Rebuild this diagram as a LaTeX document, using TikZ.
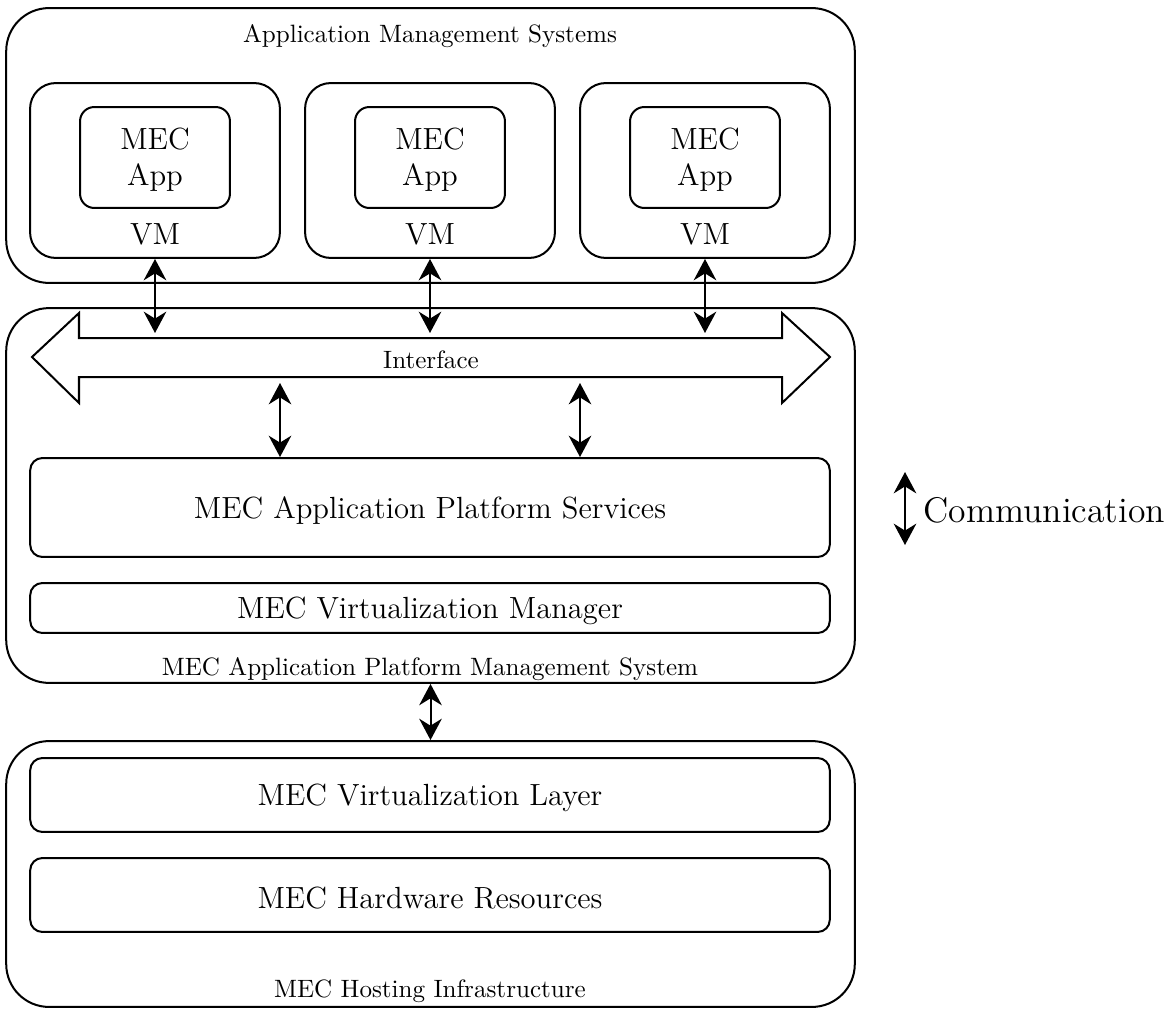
\documentclass[tikz,border=0pt]{standalone}
\usetikzlibrary{arrows.meta}
\begin{document}
\begin{tikzpicture}[x=0.014cm, y=-0.014cm,
    outerbox/.style={draw, thick, rounded corners=0.6cm, minimum width=11.886cm, inner sep=0pt},
    vmbox/.style={draw, thick, rounded corners=0.36cm, minimum width=3.5cm, minimum height=2.45cm, inner sep=0pt},
    appbox/.style={draw, thick, rounded corners=0.2cm, minimum width=2.1cm, minimum height=1.414cm, inner sep=0pt, align=center, font=\fontsize{12.2}{14.5}\selectfont},
    layerbox/.style={draw, thick, rounded corners=0.17cm, minimum width=11.2cm, inner sep=0pt, font=\fontsize{12.2}{14.5}\selectfont},
    bigtext/.style={font=\fontsize{12.2}{14.5}\selectfont},
    comm/.style={thick, {Stealth[length=8.5pt,width=9pt]}-{Stealth[length=8.5pt,width=9pt]}}]
  \useasboundingbox (0,0) rectangle (1168,1012);
  % application management systems
  \node[outerbox, minimum height=3.85cm] (ams) at (430.5,145.5) {};
  \node (amslabel) at (430,36) {Application Management Systems};
  \node[vmbox] (vm1) at (155,170.5) {};
  \node[vmbox] (vm2) at (430,170.5) {};
  \node[vmbox] (vm3) at (705,170.5) {};
  \node[appbox] (app1) at (155,157.5) {\strut MEC\\App};
  \node[appbox] (app2) at (430,157.5) {\strut MEC\\App};
  \node[appbox] (app3) at (705,157.5) {\strut MEC\\App};
  \node[bigtext] (vmlabel1) at (155,234) {VM};
  \node[bigtext] (vmlabel2) at (430,234) {VM};
  \node[bigtext] (vmlabel3) at (705,234) {VM};
  % platform management system
  \node[outerbox, minimum height=5.25cm] (mepm) at (430.5,495.5) {};
  \draw[thick] (32,357) -- (79,313) -- (79,338) -- (782,338) -- (782,313) -- (830,357)
    -- (782,403) -- (782,377) -- (79,377) -- (79,403) -- cycle;
  \node (iflabel) at (431,360) {Interface};
  \coordinate (if1) at (155,333);
  \coordinate (if2) at (430,333);
  \coordinate (if3) at (705,333);
  \coordinate (ifs1) at (280,383);
  \coordinate (ifs2) at (580,383);
  \node[layerbox, minimum height=1.386cm, text height=2.5ex] (services) at (430,507.5) {MEC Application Platform Services};
  \node[layerbox, minimum height=0.7cm, text height=2.5ex] (vmanager) at (430,608) {MEC Virtualization Manager};
  \node (mepmlabel) at (430,669) {MEC Application Platform Management System};
  % hosting infrastructure
  \node[outerbox, minimum height=3.724cm] (host) at (430.5,874) {};
  \node[layerbox, minimum height=1.036cm, text height=2.5ex] (vlayer) at (430,795) {MEC Virtualization Layer};
  \node[layerbox, minimum height=1.036cm, text height=2.5ex] (hardware) at (430,895) {MEC Hardware Resources};
  \node (hostlabel) at (430,991) {MEC Hosting Infrastructure};
  % legend
  \coordinate (legtop) at (905,472);
  \coordinate (legbot) at (905,545);
  \node[anchor=west, inner sep=0pt, font=\fontsize{14.2}{17}\selectfont] (commlabel) at (923,510) {Communication};
  % connectors
  \draw[comm] (vm1) -- (if1);
  \draw[comm] (vm2) -- (if2);
  \draw[comm] (vm3) -- (if3);
  \draw[comm] (ifs1) -- (ifs1 |- services.north);
  \draw[comm] (ifs2) -- (ifs2 |- services.north);
  \draw[comm] (mepm) -- (host);
  \draw[comm] (legtop) -- (legbot);
\end{tikzpicture}
\end{document}
